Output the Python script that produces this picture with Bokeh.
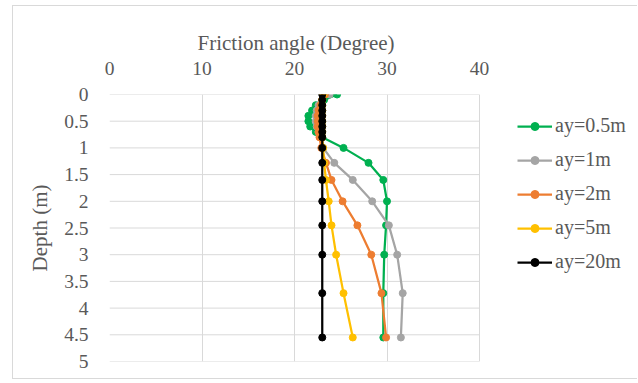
from bokeh.plotting import figure
from bokeh.models import Legend, LegendItem, FixedTicker, NumeralTickFormatter, Range1d
from bokeh.embed import file_html
from bokeh.resources import INLINE

# Depth of each computed point (m)
depth = [0.0, 0.1, 0.2, 0.3, 0.4, 0.5, 0.6, 0.7, 0.8, 1.0, 1.28, 1.6, 2.0, 2.45, 3.0, 3.72, 4.55]

# Friction angle (degree) for each yield-length case
phi_ay_0_5 = [24.6, 23.2, 22.3, 21.9, 21.5, 21.5, 21.7, 22.3, 23.0, 25.3, 28.0, 29.6, 30.0, 29.9, 29.7, 29.6, 29.6]
phi_ay_1 = [23.8, 23.0, 22.6, 22.4, 22.3, 22.3, 22.4, 22.6, 22.8, 23.1, 24.3, 26.3, 28.4, 30.2, 31.1, 31.7, 31.5]
phi_ay_2 = [23.3, 23.0, 22.8, 22.6, 22.5, 22.5, 22.5, 22.6, 22.7, 22.9, 23.4, 24.0, 25.2, 26.8, 28.3, 29.4, 29.9]
phi_ay_5 = [23.1, 23.0, 23.0, 23.0, 23.0, 23.0, 23.0, 23.0, 23.0, 23.1, 23.2, 23.4, 23.7, 24.0, 24.5, 25.3, 26.3]
phi_ay_20 = [23.0, 23.0, 23.0, 23.0, 23.0, 23.0, 23.0, 23.0, 23.0, 23.0, 23.0, 23.0, 23.0, 23.0, 23.0, 23.0, 23.0]

series_names = ["ay=0.5m", "ay=1m", "ay=2m", "ay=5m", "ay=20m"]
series_values = [phi_ay_0_5, phi_ay_1, phi_ay_2, phi_ay_5, phi_ay_20]
series_colors = ["#00B050", "#A5A5A5", "#ED7D31", "#FFC000", "#000000"]

x_ticks = [0, 10, 20, 30, 40]
y_ticks = [0, 0.5, 1, 1.5, 2, 2.5, 3, 3.5, 4, 4.5, 5]

FONT = "Liberation Serif"
GRID = "#d9d9d9"
TEXT = "#595959"

# canvas geometry: plot area is 370 px wide for 0..40 degrees; the frame
# continues to the right edge so the legend can sit beside the plot area
W, H = 625, 374
LEFT, RIGHT, TOP, BOTTOM = 96, 1, 88, 19
AREA_W = 370
x_max = x_ticks[-1] * (W - LEFT - RIGHT) / AREA_W

p = figure(
    width=W, height=H,
    x_range=Range1d(x_ticks[0], x_max), y_range=Range1d(y_ticks[-1], y_ticks[0]),
    x_axis_location="above",
    output_backend="svg", toolbar_location=None,
    min_border_left=LEFT, min_border_right=RIGHT,
    min_border_top=TOP, min_border_bottom=BOTTOM,
)
p.styles = {
    "margin-left": "12px", "margin-top": "5px",
    "border-left": "1px solid #d9d9d9", "border-top": "1px solid #d9d9d9",
    "border-bottom": "1px solid #d9d9d9",
}
p.outline_line_color = None
p.background_fill_color = "white"
p.border_fill_color = "white"

# x-axis title, centred over the 0..40 plot area
p.title.text = "Friction angle (Degree)"
p.title.align = "left"
p.title.offset = 88
p.title.standoff = 8
p.title.text_font = FONT
p.title.text_font_size = "21px"
p.title.text_font_style = "normal"
p.title.text_color = TEXT

# vertical grid lines (0..40) span the full depth range
p.xgrid.grid_line_color = GRID
p.ygrid.grid_line_color = None
# horizontal grid lines limited to the 0..40 degree plot area
p.segment(x0=[x_ticks[0]] * len(y_ticks), x1=[x_ticks[-1]] * len(y_ticks),
          y0=y_ticks, y1=y_ticks, line_color=GRID, line_width=1)

p.xaxis.ticker = FixedTicker(ticks=x_ticks)
p.xaxis.bounds = (x_ticks[0], x_ticks[-1])
p.yaxis.ticker = FixedTicker(ticks=y_ticks)
p.yaxis.formatter = NumeralTickFormatter(format="0.[0]")

for ax in (p.xaxis, p.yaxis):
    ax.axis_line_color = None
    ax.major_tick_line_color = None
    ax.minor_tick_line_color = None
    ax.major_label_text_font = FONT
    ax.major_label_text_font_size = "19.5px"
    ax.major_label_text_color = TEXT
    ax.axis_label_text_font = FONT
    ax.axis_label_text_font_size = "21px"
    ax.axis_label_text_font_style = "normal"
    ax.axis_label_text_color = TEXT

p.yaxis.axis_label = "Depth (m)"
p.xaxis.major_label_standoff = 14
p.yaxis.major_label_standoff = 15
p.yaxis.axis_label_standoff = 9

items = []
for name, vals, col in zip(series_names, series_values, series_colors):
    ln = p.line(vals, depth, line_color=col, line_width=2.25)
    sc = p.scatter(vals, depth, size=7, fill_color=col, line_color=col)
    items.append(LegendItem(label=name, renderers=[ln, sc]))

legend = Legend(
    items=items, location=(408, 88),
    glyph_width=35, glyph_height=20, label_height=20, spacing=11,
    label_standoff=3, padding=0, margin=0,
    border_line_color=None, background_fill_alpha=0,
    label_text_font=FONT, label_text_font_size="20px", label_text_color=TEXT,
)
p.add_layout(legend, "center")

open("out.html", "w").write(file_html(p, INLINE))
